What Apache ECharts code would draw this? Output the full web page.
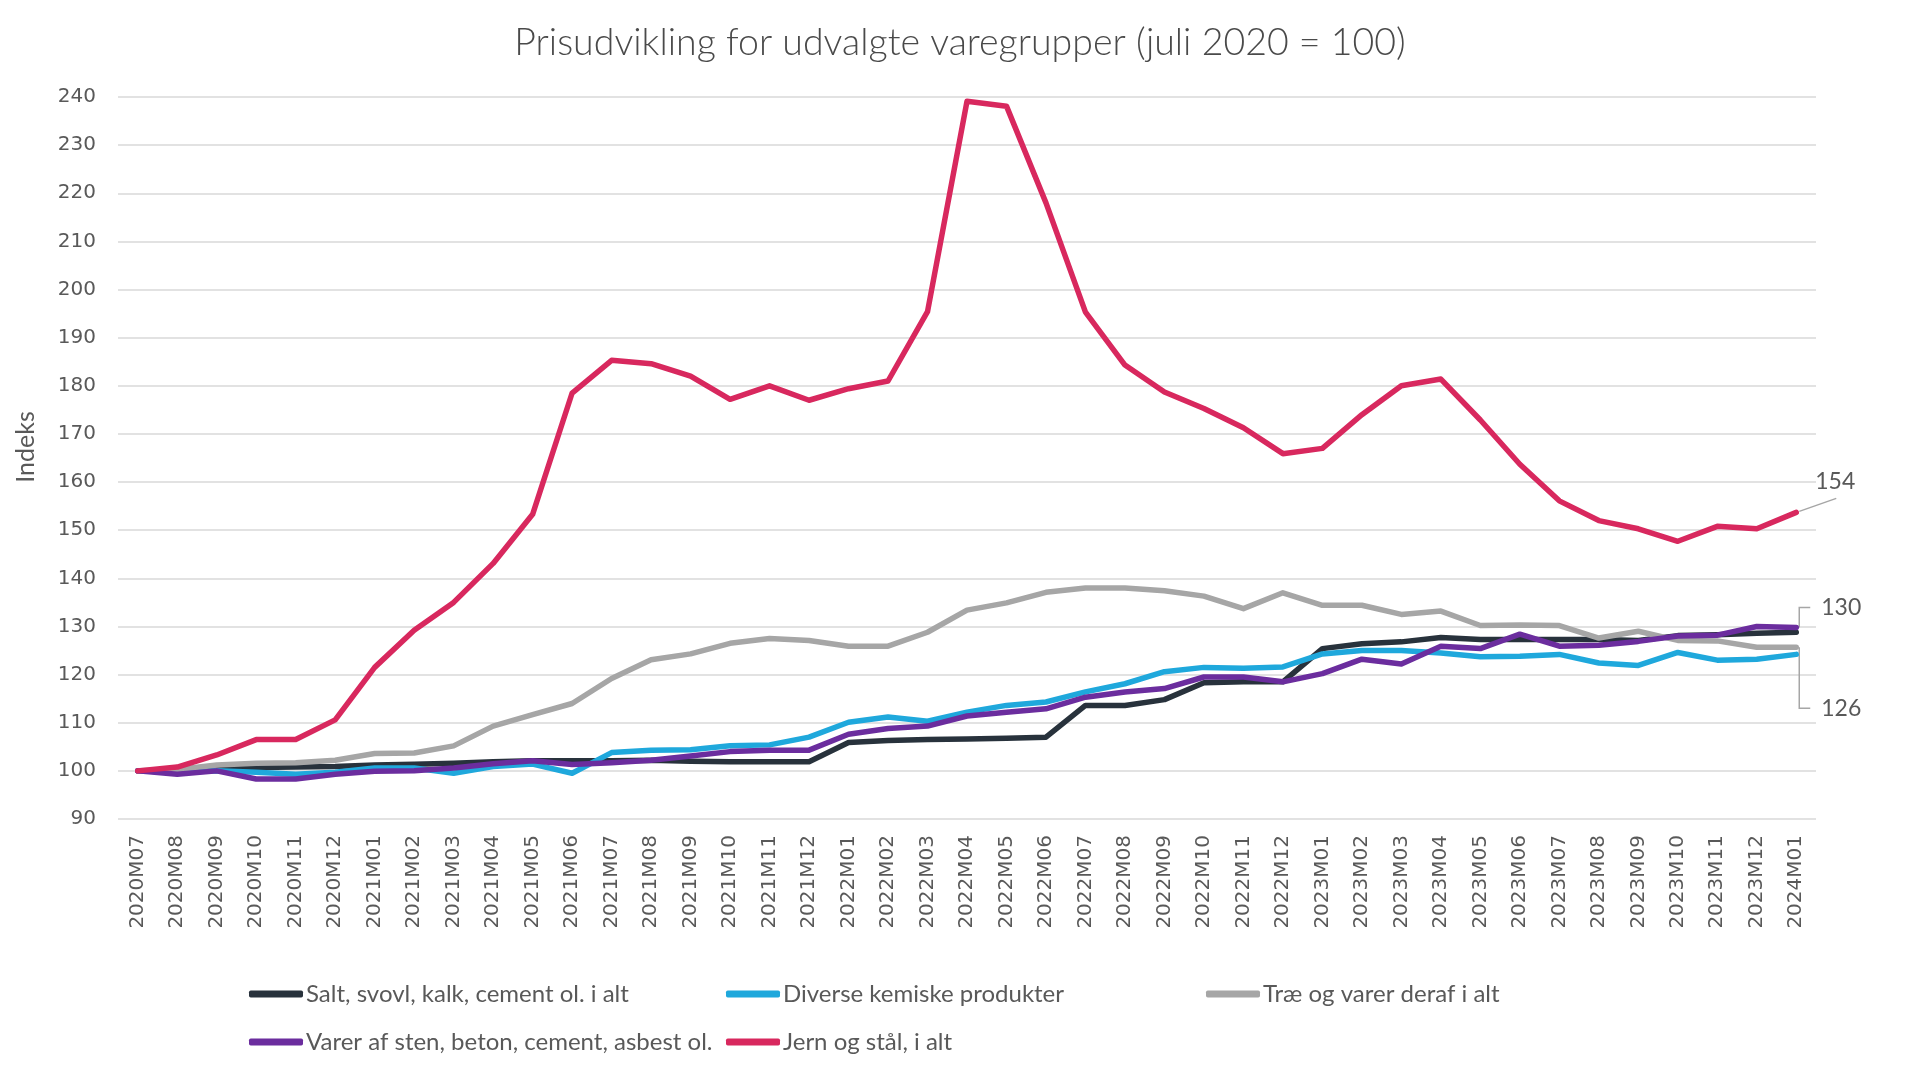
<!DOCTYPE html>
<html>
<head>
<meta charset="utf-8">
<script src="https://cdn.jsdelivr.net/npm/echarts@6/dist/echarts.min.js"></script>
<style>
html,body{margin:0;padding:0;background:#fff;}
#chart{width:1920px;height:1070px;}
</style>
</head>
<body>
<div id="chart"></div>
<script>
const months = ["2020M07","2020M08","2020M09","2020M10","2020M11","2020M12",
"2021M01","2021M02","2021M03","2021M04","2021M05","2021M06","2021M07","2021M08","2021M09","2021M10","2021M11","2021M12",
"2022M01","2022M02","2022M03","2022M04","2022M05","2022M06","2022M07","2022M08","2022M09","2022M10","2022M11","2022M12",
"2023M01","2023M02","2023M03","2023M04","2023M05","2023M06","2023M07","2023M08","2023M09","2023M10","2023M11","2023M12",
"2024M01"];

const seriesNames = ["Salt, svovl, kalk, cement ol. i alt","Diverse kemiske produkter","Træ og varer deraf i alt","Varer af sten, beton, cement, asbest ol.","Jern og stål, i alt"];

const salt = [100,99.8,100.2,100.7,100.8,100.9,101.2,101.4,101.6,101.9,102.1,102.1,102.1,102.2,102.0,101.9,101.9,101.9,
105.9,106.3,106.5,106.6,106.8,107.0,113.6,113.6,114.8,118.3,118.5,118.5,
125.4,126.4,126.8,127.7,127.3,127.3,127.3,127.3,127.1,128.1,128.3,128.6,128.8];

const kemiske = [100,99.7,100.0,99.7,99.3,99.7,100.6,100.6,99.5,100.9,101.4,99.5,103.8,104.3,104.4,105.2,105.4,107.0,
110.1,111.2,110.3,112.2,113.6,114.3,116.4,118.1,120.6,121.5,121.3,121.6,
124.3,125.0,125.0,124.5,123.7,123.8,124.2,122.4,121.9,124.6,123.0,123.2,124.2];

const trae = [100,100.3,101.2,101.6,101.7,102.2,103.6,103.7,105.2,109.3,111.7,114.0,119.2,123.1,124.3,126.5,127.5,127.1,
125.9,125.9,128.8,133.4,134.9,137.1,138.0,138.0,137.4,136.3,133.7,137.0,
134.4,134.4,132.5,133.2,130.2,130.3,130.2,127.6,129.0,127.1,127.0,125.7,125.7];

const sten = [100,99.3,100.0,98.3,98.3,99.3,99.9,100.0,100.6,101.5,102.1,101.3,101.7,102.2,103.1,104.0,104.3,104.3,
107.6,108.8,109.3,111.4,112.2,112.9,115.3,116.4,117.1,119.5,119.5,118.5,
120.2,123.2,122.2,125.9,125.4,128.4,125.9,126.1,126.9,128.0,128.2,130.0,129.8];

const jern = [100,100.8,103.3,106.5,106.5,110.6,121.5,129.2,135.0,143.1,153.3,178.5,185.3,184.6,182.0,177.2,180.0,177.0,
179.4,181.0,195.4,239.1,238.1,218.0,195.3,184.3,178.7,175.3,171.3,165.9,
167.0,174.0,180.0,181.4,172.9,163.7,156.1,152.0,150.3,147.7,150.8,150.3,153.7];

const yTicks = {min: 90, max: 240, interval: 10};
const endLabels = ["154","130","126"];

const colors = ["#28323C","#1FA8DC","#A6A6A6","#6B2D9E","#D8285E"];
const allData = [salt, kemiske, trae, sten, jern];

const chart = echarts.init(document.getElementById('chart'));
const textColor = '#595959';
const legendCols = [249, 726, 1206, 249, 726];
const legendRows = [982, 982, 982, 1030, 1030];

const option = {
  animation: false,
  backgroundColor: '#ffffff',
  title: {
    text: 'Prisudvikling for udvalgte varegrupper (juli 2020 = 100)',
    left: 'center',
    top: 19,
    textStyle: {fontFamily: 'Lato', fontWeight: 300, fontSize: 37.5, color: '#4a4a4a'}
  },
  grid: {left: 118, right: 104, top: 97, bottom: 251},
  legend: seriesNames.map((n, k) => ({
    data: [n],
    left: legendCols[k],
    top: legendRows[k],
    icon: 'roundRect',
    itemWidth: 54,
    itemHeight: 7,
    padding: 0,
    textStyle: {fontFamily: 'Lato', fontSize: 24, color: textColor, padding: [0,0,0,-2]}
  })),
  xAxis: {
    type: 'category',
    data: months,
    boundaryGap: true,
    axisLine: {show: false},
    axisTick: {show: false},
    axisLabel: {rotate: 90, margin: 16, fontFamily: 'DejaVu Sans', fontSize: 20, color: textColor, interval: 0}
  },
  yAxis: {
    type: 'value',
    min: yTicks.min, max: yTicks.max, interval: yTicks.interval,
    name: 'Indeks',
    nameLocation: 'middle',
    nameGap: 80,
    nameRotate: 90,
    nameTextStyle: {fontFamily: 'Lato', fontSize: 25, color: textColor, padding: [0,0,0,22]},
    axisLine: {show: false},
    axisTick: {show: false},
    axisLabel: {margin: 22, fontFamily: 'DejaVu Sans', fontSize: 20, color: textColor},
    splitLine: {lineStyle: {color: '#D9D9D9', width: 1.5}}
  },
  series: seriesNames.map((n, k) => ({
    name: n,
    type: 'line',
    data: allData[k],
    symbol: 'none',
    color: colors[k],
    lineStyle: {width: 5.5, color: colors[k], join: 'round', cap: 'round'},
    z: 2 + k
  }))
};
chart.setOption(option);

// annotations at series ends, positioned from the chart's own scales
const last = months.length - 1;
const pR = chart.convertToPixel({xAxisIndex: 0, yAxisIndex: 0}, [last, jern[last]]);
const pP = chart.convertToPixel({xAxisIndex: 0, yAxisIndex: 0}, [last, sten[last]]);
const pG = chart.convertToPixel({xAxisIndex: 0, yAxisIndex: 0}, [last, trae[last]]);
const lc = '#A6A6A6';
const lblStyle = {fontFamily: 'Lato', fontSize: 23, fill: textColor};
chart.setOption({
  graphic: [
    {type: 'polyline', shape: {points: [[pR[0]+3, pR[1]-1], [pR[0]+40, pR[1]-14]]}, style: {stroke: lc, lineWidth: 1.5, fill: null}},
    {type: 'text', x: pR[0]+19, y: pR[1]-31, style: Object.assign({text: endLabels[0], verticalAlign: 'middle'}, lblStyle)},
    {type: 'polyline', shape: {points: [[pP[0]+3, pP[1]], [pP[0]+3, pP[1]-20], [pP[0]+14, pP[1]-20]]}, style: {stroke: lc, lineWidth: 1.5, fill: null}},
    {type: 'text', x: pP[0]+25, y: pP[1]-20, style: Object.assign({text: endLabels[1], verticalAlign: 'middle'}, lblStyle)},
    {type: 'polyline', shape: {points: [[pG[0]+3, pG[1]], [pG[0]+3, pG[1]+61], [pG[0]+14, pG[1]+61]]}, style: {stroke: lc, lineWidth: 1.5, fill: null}},
    {type: 'text', x: pG[0]+25, y: pG[1]+61, style: Object.assign({text: endLabels[2], verticalAlign: 'middle'}, lblStyle)}
  ]
});
</script>
</body>
</html>
